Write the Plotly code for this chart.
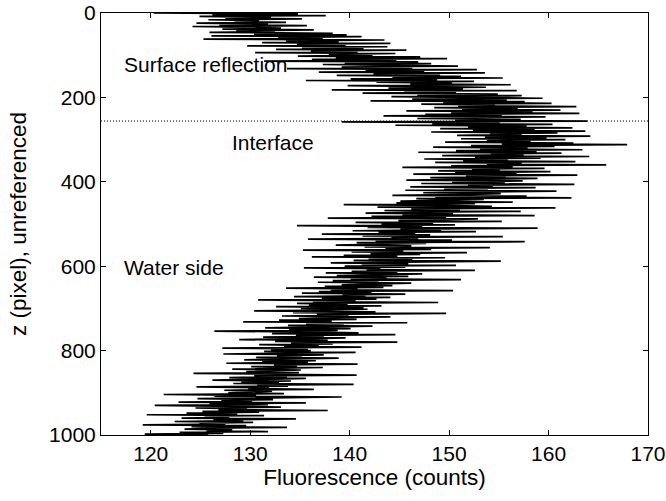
import numpy as np
import plotly.graph_objects as go

# Fluorescence profile (counts), sampled every 2 pixels in z, in blocks of 100 px
counts_000 = [120.3, 134.8, 126.2, 137.6, 124.9, 132.1, 127.5, 135.2, 125.8, 130.9, 128.4, 133.6, 124.6,
              131.8, 126.9, 135.7, 124.2, 129.8, 133.1, 127.2, 136.4, 128.6, 132.5, 125.9, 138.3,
              130.4, 139.7, 126.1, 141.2, 132.8, 137.3, 125.3, 143.5, 133.6, 138.9, 131.2, 144.1, 134.7,
              139.6, 129.7, 143.8, 135.2, 141.4, 132.6, 145.7, 136.1, 140.8, 130.5, 144.6, 137.9]
counts_100 = [142.3, 134.8, 147.1, 138.6, 149.8, 136.2, 144.7, 131.4, 146.9, 139.5, 148.2, 137.3, 143.6,
              150.9, 139.2, 146.3, 133.7, 152.8, 141.6, 147.5, 136.9, 153.6, 142.4, 149.1, 138.7,
              151.2, 144.3, 155.4, 140.1, 148.8, 135.6, 152.5, 142.7, 150.3, 146.1, 156.2, 139.8, 149.6,
              153.7, 143.9, 151.4, 138.2, 156.8, 145.5, 150.7, 141.3, 154.9, 146.8, 157.3, 144.2]
counts_200 = [152.1, 159.4, 146.3, 155.8, 142.1, 157.6, 149.4, 160.3, 147.2, 154.6, 150.9, 162.8, 148.5,
              156.9, 151.3, 161.2, 145.7, 158.4, 150.2, 163.1, 147.6, 155.3, 143.4, 159.7, 152.6,
              146.8, 157.2, 150.6, 163.9, 139.2, 155.1, 148.3, 160.4, 144.6, 157.8, 151.9, 162.4, 149.1,
              158.6, 152.4, 163.7, 148.2, 160.9, 154.1, 157.3, 150.8, 164.2, 153.6, 159.8, 151.2]
counts_300 = [161.7, 153.8, 158.2, 149.6, 162.5, 155.3, 167.9, 152.2, 160.6, 148.4, 157.9, 153.1, 163.4,
              150.7, 158.8, 146.9, 161.3, 154.2, 157.5, 149.3, 164.1, 152.6, 159.2, 147.5, 155.9,
              151.4, 162.7, 148.6, 157.3, 153.8, 165.8, 150.2, 156.4, 145.3, 159.6, 152.3, 155.1, 148.9,
              160.2, 150.6, 156.8, 146.4, 162.9, 151.7, 155.7, 148.1, 158.9, 153.2, 145.7, 157.4]
counts_400 = [150.3, 155.6, 147.2, 162.6, 151.9, 154.4, 146.1, 158.7, 149.5, 153.9, 145.6, 160.8, 150.8,
              147.4, 155.2, 152.1, 144.3, 157.8, 148.6, 162.3, 146.7, 153.5, 149.9, 145.1, 156.4,
              144.7, 152.6, 139.4, 148.9, 154.3, 142.8, 160.7, 146.2, 151.1, 143.5, 157.2, 147.8, 141.6,
              150.4, 145.3, 158.6, 142.2, 149.7, 137.8, 152.9, 146.1, 144.9, 155.3, 140.6, 148.4]
counts_500 = [143.2, 150.6, 134.7, 147.3, 141.8, 158.9, 145.1, 149.2, 140.3, 152.7, 142.9, 146.6, 137.2,
              148.1, 141.3, 155.4, 144.2, 146.9, 135.8, 150.3, 142.6, 157.6, 140.7, 147.7, 143.4,
              138.6, 146.2, 141.5, 154.1, 143.6, 148.2, 135.3, 145.4, 140.2, 151.8, 142.1, 147.1, 139.4,
              144.8, 136.2, 149.6, 141.9, 146.3, 140.4, 155.2, 143.1, 138.1, 145.9, 141.2, 150.7]
counts_600 = [139.5, 145.6, 135.4, 143.1, 141.7, 152.6, 140.2, 144.8, 137.6, 147.3, 142.4, 138.7, 145.9,
              136.4, 143.7, 140.1, 151.2, 138.3, 142.9, 136.8, 146.2, 141.1, 139.2, 144.3, 137.5,
              143.4, 133.6, 140.8, 138.1, 150.4, 136.9, 142.2, 135.2, 145.6, 139.3, 141.6, 134.4, 144.1,
              137.2, 142.7, 130.8, 140.6, 136.3, 148.9, 134.7, 139.8, 135.9, 143.2, 132.6, 141.4]
counts_700 = [135.1, 141.8, 137.9, 130.4, 142.6, 134.3, 149.7, 136.7, 139.9, 133.2, 144.1, 138.4, 134.9,
              140.7, 132.9, 138.2, 129.3, 145.8, 135.6, 139.4, 133.8, 142.3, 136.2, 131.5, 140.1,
              133.9, 138.8, 126.4, 136.5, 140.9, 132.2, 144.6, 134.6, 137.4, 131.3, 139.6, 135.3, 128.9,
              137.8, 132.5, 144.8, 134.1, 138.3, 130.9, 136.9, 133.4, 141.2, 127.2, 135.8, 132.1]
counts_800 = [136.1, 131.4, 140.6, 133.6, 127.3, 137.4, 132.7, 135.2, 130.6, 138.9, 133.1, 129.4, 136.6,
              131.2, 135.8, 127.6, 140.8, 132.4, 134.7, 130.1, 137.3, 133.3, 128.2, 135.1, 131.7,
              129.6, 134.9, 124.3, 132.8, 140.7, 130.4, 133.7, 127.9, 135.6, 131.5, 126.2, 134.1, 129.1,
              132.9, 128.3, 140.4, 130.7, 133.8, 124.6, 131.9, 129.8, 136.4, 127.4, 132.2, 130.2]
counts_900 = [127.8, 133.4, 121.3, 130.6, 126.4, 139.2, 128.9, 124.7, 132.3, 127.1, 130.2, 122.8, 135.6,
              125.9, 131.8, 120.4, 128.4, 133.1, 124.5, 129.7, 126.8, 137.8, 125.2, 130.9, 123.6,
              128.7, 119.6, 131.4, 125.4, 127.9, 123.1, 134.6, 126.3, 129.3, 122.4, 130.3, 124.9, 127.5,
              119.2, 129.6, 124.1, 133.7, 126.1, 123.4, 128.2, 125.6, 131.8, 122.9, 127.3, 119.4, 125.8]

counts = (counts_000 + counts_100 + counts_200 + counts_300 + counts_400
          + counts_500 + counts_600 + counts_700 + counts_800 + counts_900)
z_step = 2
z = np.arange(len(counts)) * z_step

interface_z = 256
x_range = [115, 170]
x_ticks = [120, 130, 140, 150, 160, 170]
y_ticks = [0, 200, 400, 600, 800, 1000]

labels = [
    ("Surface reflection", 117.1, 123),
    ("Interface", 128.0, 306),
    ("Water side", 117.1, 604),
]

FONT = "Liberation Sans, Arial, Helvetica, sans-serif"

fig = go.Figure()
fig.add_trace(go.Scatter(
    x=counts, y=z, mode="lines",
    line=dict(color="black", width=1.7),
    hoverinfo="skip", showlegend=False,
))
fig.add_trace(go.Scatter(
    x=x_range, y=[interface_z, interface_z], mode="lines",
    line=dict(color="black", width=1, dash="1px,2px"),
    hoverinfo="skip", showlegend=False,
))

for text, xv, zv in labels:
    fig.add_annotation(
        x=xv, y=zv, text=text, showarrow=False,
        xanchor="left", yanchor="middle",
        font=dict(family=FONT, size=21, color="black"),
    )

axis_common = dict(
    showline=True, linecolor="black", linewidth=1,
    mirror="ticks", ticks="inside", ticklen=5, tickcolor="black",
    showgrid=False, zeroline=False, automargin=False,
    tickfont=dict(family=FONT, size=21, color="black"),
)

fig.update_layout(
    width=666, height=501,
    margin=dict(l=101, r=18, t=13, b=66),
    paper_bgcolor="white", plot_bgcolor="white",
    xaxis=dict(
        range=x_range, tickvals=x_ticks,
        title=dict(text="Fluorescence (counts)", standoff=4,
                   font=dict(family=FONT, size=22.5, color="black")),
        **axis_common,
    ),
    yaxis=dict(
        range=[1000, 0], tickvals=y_ticks,
        title=dict(text="z (pixel), unreferenced", standoff=16,
                   font=dict(family=FONT, size=22.5, color="black")),
        **axis_common,
    ),
)

fig.write_html("out.html")
